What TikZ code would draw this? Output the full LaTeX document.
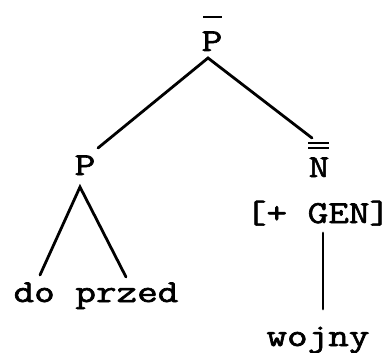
\documentclass[tikz,border=0pt]{standalone}
\usepackage{fontspec}
\setmonofont{Latin Modern Mono}[FakeStretch=1.25,FakeBold=2]
\begin{document}
\begin{tikzpicture}[x=1pt,y=-1pt,
  lbl/.style={font=\fontsize{32}{36}\selectfont\ttfamily,anchor=base,inner sep=0pt},
  edge/.style={line width=2.8pt,line cap=round},
  barline/.style={line width=2.3pt}]
\useasboundingbox (0,0) rectangle (391,353);
\node[lbl] (ptop) at (212,51) {P};
\node[lbl] (pl) at (85,175) {P};
\node[lbl] (nn) at (319,177) {N};
\node[lbl] (gen) at (318,223) {[+ GEN]};
\node[lbl] (dp) at (96,302) {do przed};
\node[lbl] (w) at (318,346) {wojny};
% bars
\draw[barline] ([shift={(-9,-34)}]ptop.base) -- ([shift={(10,-34)}]ptop.base);
\draw[barline] ([shift={(-11,-34)}]nn.base) -- ([shift={(10,-34)}]nn.base);
\draw[barline] ([shift={(-11,-29)}]nn.base) -- ([shift={(10,-29)}]nn.base);
% connectors
\draw[edge] ([shift={(13,-27)}]pl.base) -- ([shift={(-4,7)}]ptop.base) -- ([shift={(-7,-39)}]nn.base);
\draw[edge] ([shift={(-56,-27)}]dp.base) -- ([shift={(-5,12)}]pl.base) -- ([shift={(30,-25)}]dp.base);
\draw[edge] ([shift={(5,10)}]gen.base) -- ([shift={(5,-37)}]w.base);
\end{tikzpicture}
\end{document}
